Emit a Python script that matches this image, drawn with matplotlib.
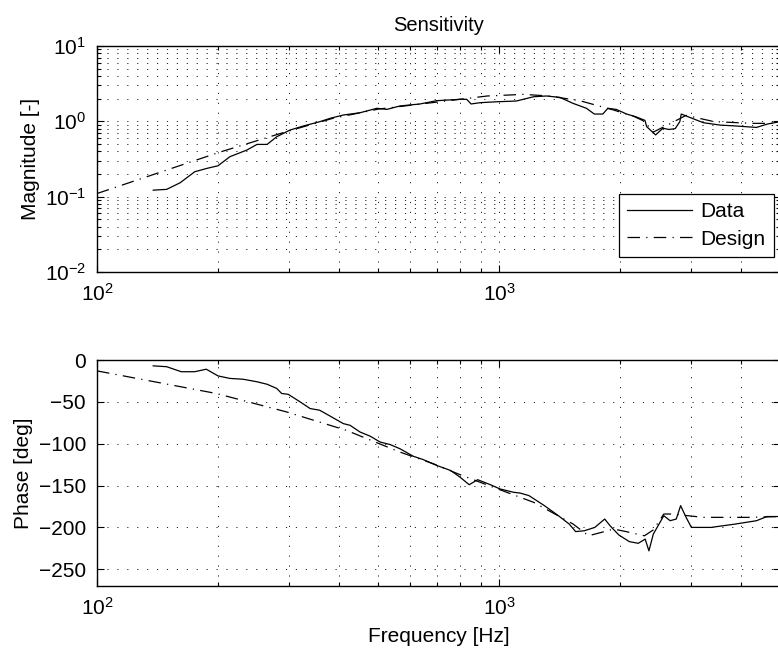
import matplotlib
matplotlib.use("Agg")
import matplotlib.pyplot as plt
from matplotlib.ticker import LogLocator, NullFormatter, MultipleLocator

plt.rcParams['font.family'] = ['Liberation Sans', 'DejaVu Sans']
plt.rcParams['mathtext.default'] = 'regular'
plt.rcParams['font.size'] = 15

# ---- data ----
f_mag_data = [138, 149, 161, 175, 188, 200, 214, 236, 250, 265, 280, 302, 326, 358, 380,
              410, 451, 497, 526, 567, 636, 700, 800, 831, 852, 899, 990, 1104, 1219, 1312,
              1417, 1529, 1650, 1726, 1812, 1866, 1957, 2077, 2189, 2307, 2330, 2452, 2557,
              2645, 2743, 2817, 2840, 2955, 3220, 3557, 3853, 4371, 4648, 5000]
mag_data = [0.122, 0.125, 0.153, 0.214, 0.238, 0.257, 0.339, 0.416, 0.494, 0.494, 0.625,
            0.766, 0.867, 0.988, 1.096, 1.213, 1.30, 1.49, 1.44, 1.6, 1.70, 1.88, 1.96, 1.96,
            1.7, 1.77, 1.82, 1.86, 2.12, 2.17, 2.08, 1.73, 1.49, 1.25, 1.25, 1.49, 1.44, 1.25,
            1.15, 1.03, 0.85, 0.66, 0.81, 0.78, 0.80, 0.99, 1.25, 1.15, 0.96, 0.89, 0.87,
            0.83, 0.92, 0.99]

f_mag_design = [100, 202, 296, 387, 500, 700, 935, 1150, 1330, 1588, 1930, 2160, 2300, 2420,
                2620, 2920, 3430, 4270, 5000]
mag_design = [0.11, 0.39, 0.73, 1.1, 1.45, 1.8, 2.17, 2.28, 2.17, 1.88, 1.41, 1.17, 1.0, 0.72,
              0.89, 1.2, 0.99, 0.94, 0.94]

f_ph_data = [138, 149, 162, 175, 187, 200, 214, 231, 250, 265, 280, 288, 299, 320, 339, 358,
             380, 410, 426, 451, 478, 506, 536, 567, 612, 648, 700, 758, 800, 843, 885, 952,
             1005, 1086, 1129, 1187, 1297, 1405, 1495, 1551, 1630, 1731, 1832, 1889, 1986,
             2110, 2220, 2310, 2360, 2420, 2570, 2665, 2760, 2830, 2920, 3010, 3370, 3870,
             4370, 4640, 5000]
ph_data = [-7, -8, -14, -14, -11, -19, -22, -23, -26, -29, -34, -40, -41, -50, -58, -60, -67,
           -76, -78, -86, -91, -98, -101, -106, -115, -119, -126, -132, -140, -149, -143, -149,
           -154, -158, -159, -162, -174, -186, -196, -205, -204, -200, -190, -198, -209, -217,
           -219, -214, -228, -208, -186, -192, -190, -174, -188, -200, -200, -196, -192, -187,
           -187]

f_ph_design = [100, 198, 296, 417, 567, 687, 800, 1005, 1219, 1529, 1670, 1930, 2070, 2300,
               2420, 2570, 2700, 3220, 4150, 5000]
ph_design = [-13, -40, -62, -84, -110, -124, -137, -155, -170, -196, -210, -202, -205, -210,
             -203, -184, -184, -188, -188, -187]

title = "Sensitivity"
mag_label = "Magnitude [-]"
ph_label = "Phase [deg]"
x_label = "Frequency [Hz]"
legend_labels = ["Data", "Design"]

# ---- figure ----
fig = plt.figure(figsize=(7.78, 6.51), dpi=100)
W, H = 778, 651
def rect(x0, y0, x1, y1):
    return [x0 / W, 1 - y1 / H, (x1 - x0) / W, (y1 - y0) / H]

ax1 = fig.add_axes(rect(97, 46, 780, 272))
ax2 = fig.add_axes(rect(97, 360, 780, 586))

dashdot = (0, (10, 5, 1, 5))
grid_kw = dict(color='#222222', linestyle=(0, (1.2, 9)), linewidth=0.7)

for ax in (ax1, ax2):
    ax.set_xscale('log')
    ax.set_xlim(100, 5000)
    ax.xaxis.set_major_locator(LogLocator(base=10, numticks=10))
    ax.xaxis.set_minor_locator(LogLocator(base=10, subs=range(2, 10), numticks=20))
    ax.xaxis.set_minor_formatter(NullFormatter())
    ax.tick_params(which='both', direction='in', top=True, right=True, width=0.8)
    ax.tick_params(which='major', length=5, pad=8)
    ax.tick_params(which='minor', length=3)
    ax.grid(True, which='major', axis='both', **grid_kw)
    ax.grid(True, which='minor', axis='x', **grid_kw)
    for s in ax.spines.values():
        s.set_linewidth(1.0)

l1, = ax1.plot(f_mag_data, mag_data, color='black', linewidth=0.9)
l2, = ax1.plot(f_mag_design, mag_design, color='black', linewidth=0.9, linestyle=dashdot)
ax1.set_yscale('log')
ax1.set_ylim(1e-2, 1e1)
ax1.yaxis.set_major_locator(LogLocator(base=10, numticks=10))
ax1.yaxis.set_minor_locator(LogLocator(base=10, subs=range(2, 10), numticks=20))
ax1.yaxis.set_minor_formatter(NullFormatter())
ax1.grid(True, which='minor', axis='y', **grid_kw)
ax1.set_ylabel(mag_label)
ax1.yaxis.set_label_coords(-0.083, 0.5)
ax1.set_title(title, fontsize=14.5, pad=11)
leg = ax1.legend([l1, l2], legend_labels, loc='lower right', bbox_to_anchor=(0.991, 0.066),
                 borderaxespad=0, fancybox=False, framealpha=1, edgecolor='black',
                 handlelength=3.1, fontsize=15, borderpad=0.4, labelspacing=0.4,
                 handletextpad=0.4)
leg.get_frame().set_linewidth(0.9)

ax2.plot(f_ph_data, ph_data, color='black', linewidth=0.9)
ax2.plot(f_ph_design, ph_design, color='black', linewidth=0.9, linestyle=dashdot)
ax2.set_ylim(-270, 0)
ax2.yaxis.set_major_locator(MultipleLocator(50))
ax2.set_ylabel(ph_label)
ax2.yaxis.set_label_coords(-0.094, 0.5)
ax2.set_xlabel(x_label, labelpad=6)

fig.savefig("out.png", dpi=100)
